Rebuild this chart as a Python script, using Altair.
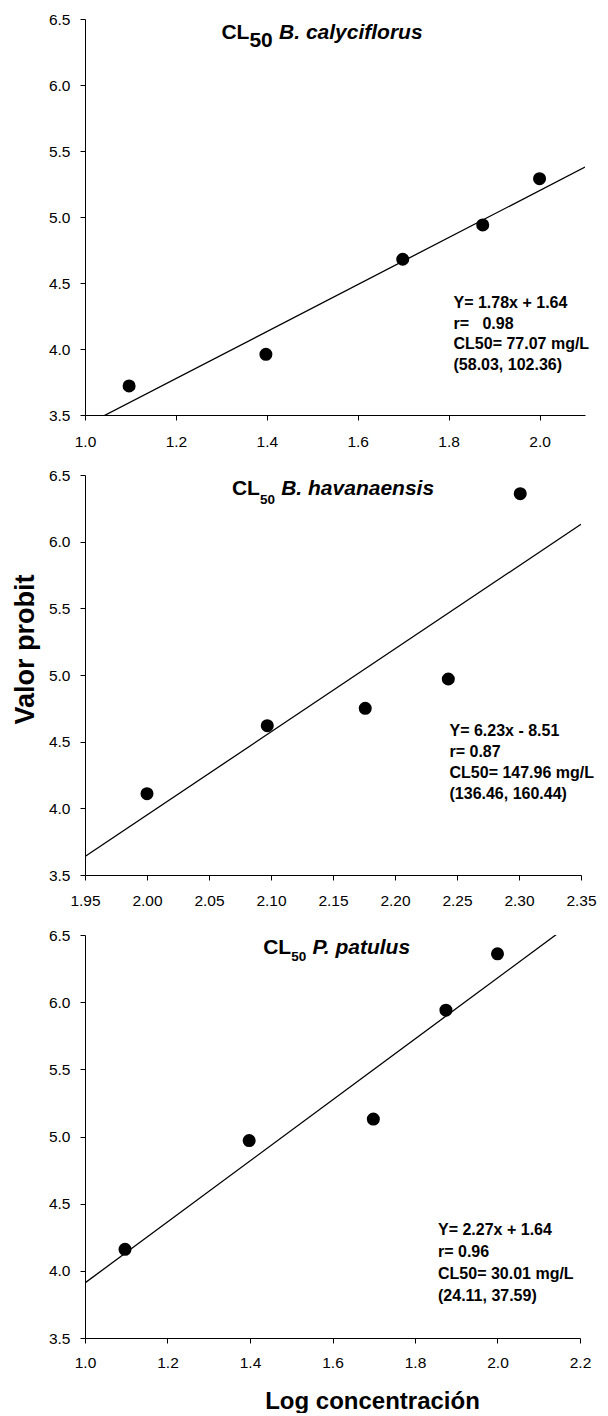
import altair as alt
import pandas as pd

FONT = "Liberation Sans"

# log10 concentration (x) and probit value (y) for each species
x_caly = [1.097, 1.398, 1.699, 1.875, 2.000]
y_caly = [3.72, 3.96, 4.68, 4.94, 5.29]
x_hava = [2.000, 2.097, 2.176, 2.243, 2.301]
y_hava = [4.11, 4.62, 4.75, 4.97, 6.36]
x_patu = [1.097, 1.398, 1.699, 1.875, 2.000]
y_patu = [4.16, 4.97, 5.13, 5.94, 6.36]

# fitted probit regressions: (slope, intercept)
fit_caly = (1.78, 1.64)
fit_hava = (6.23, -8.51)
fit_patu = (2.27, 1.64)

stats_caly = ["Y= 1.78x + 1.64", "r=\u00a0\u00a0 0.98", "CL50= 77.07 mg/L", "(58.03, 102.36)"]
stats_hava = ["Y= 6.23x - 8.51", "r= 0.87", "CL50= 147.96 mg/L", "(136.46, 160.44)"]
stats_patu = ["Y= 2.27x + 1.64", "r= 0.96", "CL50= 30.01 mg/L", "(24.11, 37.59)"]

x_dom_caly = [1.0, 2.1]
x_ticks_caly = [1.0, 1.2, 1.4, 1.6, 1.8, 2.0]
x_dom_hava = [1.95, 2.35]
x_ticks_hava = [1.95, 2.00, 2.05, 2.10, 2.15, 2.20, 2.25, 2.30, 2.35]
x_dom_patu = [1.0, 2.2]
x_ticks_patu = [1.0, 1.2, 1.4, 1.6, 1.8, 2.0, 2.2]
y_dom = [3.5, 6.5]
y_ticks = [3.5, 4.0, 4.5, 5.0, 5.5, 6.0, 6.5]

TICK_FS = 15.5
NOTE_FS = 16
TITLE_FS = 21

# Arial/Liberation bold advance widths (per 1000 em) used to lay out the panel titles
ADV = {" ": 278, ".": 278, "B": 722, "C": 722, "L": 611, "P": 667, "a": 556, "c": 556,
       "e": 556, "f": 333, "h": 611, "i": 278, "l": 278, "n": 611, "o": 611, "p": 611,
       "r": 389, "s": 556, "t": 333, "u": 611, "v": 556, "y": 556}
for d in "0123456789":
    ADV[d] = 556


def text_width(s, size):
    return sum(ADV.get(c, 556) for c in s) / 1000 * size


def text_piece(label, px, py, size, style="normal"):
    return alt.Chart(pd.DataFrame({"t": [label]})).mark_text(
        font=FONT, fontSize=size, fontWeight="bold", fontStyle=style,
        align="left", baseline="alphabetic", color="black"
    ).encode(x=alt.value(px), y=alt.value(py), text="t:N")


def title_layers(species, cx, base, size, sub_size, drop):
    w_cl = text_width("CL", size)
    w_sub = text_width("50", sub_size)
    gap = 0.3 * size
    total = w_cl + w_sub + gap + text_width(species, size)
    left = cx - total / 2
    return [
        text_piece("CL", left, base, size),
        text_piece("50", left + w_cl, base + drop, sub_size),
        text_piece(species, left + w_cl + w_sub + gap, base, size, "italic"),
    ]


def panel(xs, ys, fit, stats, x_dom, x_ticks, x_fmt, w, h, title, stats_pos,
          line_h, label_pad, y_axis_title=None, x_axis_title=None):
    slope, icpt = fit
    pts = pd.DataFrame({"x": xs, "y": ys})
    fit_df = pd.DataFrame({"x": x_dom, "y": [slope * v + icpt for v in x_dom]})

    x_axis = dict(values=x_ticks, format=x_fmt, grid=False, domainColor="black",
                  tickColor="black", tickSize=5, domainWidth=1, tickWidth=1,
                  labelFont=FONT, labelFontSize=TICK_FS, labelColor="black",
                  labelPadding=label_pad, labelFlush=False)
    if x_axis_title:
        x_axis.update(title=x_axis_title["text"], titleFont=FONT,
                      titleFontSize=x_axis_title["size"], titleFontWeight="bold",
                      titleColor="black", titleX=x_axis_title["x"],
                      titleY=x_axis_title["y"], titleAlign="center",
                      titleBaseline="alphabetic")
    else:
        x_axis.update(title=None)

    y_axis = dict(values=y_ticks, format=".1f", grid=False, domainColor="black",
                  tickColor="black", tickSize=5, domainWidth=1, tickWidth=1,
                  labelFont=FONT, labelFontSize=TICK_FS, labelColor="black",
                  labelPadding=10, labelFlush=False)
    if y_axis_title:
        y_axis.update(title=y_axis_title["text"], titleFont=FONT,
                      titleFontSize=y_axis_title["size"], titleFontWeight="bold",
                      titleColor="black", titleAngle=270, titleX=y_axis_title["x"],
                      titleY=y_axis_title["y"], titleAlign="center",
                      titleBaseline="alphabetic")
    else:
        y_axis.update(title=None)

    xenc = alt.X("x:Q", scale=alt.Scale(domain=x_dom, nice=False, zero=False),
                 axis=alt.Axis(**x_axis))
    yenc = alt.Y("y:Q", scale=alt.Scale(domain=y_dom, nice=False, zero=False),
                 axis=alt.Axis(**y_axis))

    line = alt.Chart(fit_df).mark_line(color="black", strokeWidth=1.3, clip=True).encode(
        x=xenc, y=yenc)
    dots = alt.Chart(pts).mark_circle(color="black", opacity=1, size=170).encode(
        x="x:Q", y="y:Q")
    note = alt.Chart(pd.DataFrame({"t": ["\n".join(stats)]})).mark_text(
        font=FONT, fontSize=NOTE_FS, fontWeight="bold", align="left",
        baseline="alphabetic", lineBreak="\n", lineHeight=line_h, color="black"
    ).encode(x=alt.value(stats_pos[0]), y=alt.value(stats_pos[1]), text="t:N")

    return alt.layer(line, dots, note, *title).properties(width=w, height=h)


p1 = panel(x_caly, y_caly, fit_caly, stats_caly, x_dom_caly, x_ticks_caly, ".1f",
           500, 396, title_layers("B. calyciflorus", 237, 20, TITLE_FS, TITLE_FS, 7.5),
           (368.5, 289), 20.5, 14)
p2 = panel(x_hava, y_hava, fit_hava, stats_hava, x_dom_hava, x_ticks_hava, ".2f",
           496, 400, title_layers("B. havanaensis", 248, 20, TITLE_FS, 13.5, 8.5),
           (364.5, 260.5), 21, 13,
           y_axis_title={"text": "Valor probit", "size": 27, "x": -52, "y": 174})
p3 = panel(x_patu, y_patu, fit_patu, stats_patu, x_dom_patu, x_ticks_patu, ".1f",
           495, 403, title_layers("P. patulus", 253, 18.5, TITLE_FS, 13.5, 7.5),
           (353, 299.5), 22, 12,
           x_axis_title={"text": "Log concentración", "size": 24, "x": 287, "y": 70})

chart = alt.vconcat(p1, p2, p3, spacing=60, bounds="flush").properties(
    padding={"left": 11, "top": 12, "right": 5, "bottom": 0},
    background="white",
).configure_view(stroke=None)

chart.save("out.html", embed_options={"renderer": "svg", "actions": False})
